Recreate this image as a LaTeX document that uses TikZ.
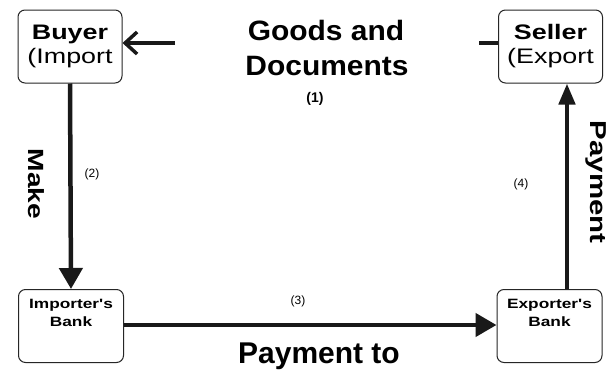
\documentclass[tikz,border=0pt]{standalone}
\usepackage{fontspec}
\setmainfont{Liberation Sans}
\newfontfamily\widefont[FakeStretch=1.28]{Liberation Sans}
\newfontfamily\midfont[FakeStretch=1.07]{Liberation Sans}
\usetikzlibrary{arrows.meta}
\tikzset{
  party/.style={draw=black!85, line width=1pt, rounded corners=7pt,
    minimum width=104pt, minimum height=73pt, inner sep=0pt,
    align=center, font=\widefont\fontsize{21}{24}\selectfont},
  bankbox/.style={draw=black!85, line width=1pt, rounded corners=7pt,
    minimum width=105pt, minimum height=73pt, inner sep=0pt},
  banktext/.style={align=center, inner sep=0pt,
    font=\widefont\bfseries\fontsize{13.5}{18}\selectfont},
  flow/.style={line width=4.5pt, draw=black!90,
    -{Triangle[length=21pt,width=23pt]}},
  num/.style={inner sep=0pt, font=\fontsize{12}{13}\selectfont},
  sidelabel/.style={inner sep=0pt, rotate=-90,
    font=\widefont\bfseries\fontsize{22}{24}\selectfont},
}
\begin{document}
\begin{tikzpicture}[x=1pt,y=-1pt]
\useasboundingbox[fill=white] (0,0) rectangle (611,370);

% trading parties
\node[party] (buyer) at (70,46.5) {\textbf{Buyer}\\(Import};
\node[party] (seller) at (550.5,46.5) {\textbf{Seller}\\(Export};

% banks
\node[bankbox] (ibank) at (71,326) {};
\node[banktext, anchor=north] (ibanktext) at ([yshift=-10pt]ibank.north) {Importer's\\Bank};
\node[bankbox] (ebank) at (549.5,326) {};
\node[banktext, anchor=north] (ebanktext) at ([yshift=-10pt]ebank.north) {Exporter's\\Bank};

% goods and documents
\node[anchor=base, inner sep=0pt, font=\midfont\bfseries\fontsize{28}{30}\selectfont] (goods) at (326,40) {Goods and};
\node[anchor=base, inner sep=0pt, font=\midfont\bfseries\fontsize{28}{30}\selectfont] (docs) at (327,75) {Documents};
\node[inner sep=0pt, font=\bfseries\fontsize{14}{16}\selectfont] (n1) at (315,99) {(1)};

\coordinate (gstart) at (175,43);
\draw[line width=3.5pt, draw=black!90,
  -{Straight Barb[length=12pt,width=22pt,line width=3.5pt]}]
  (gstart) -- (buyer.east |- gstart);
\coordinate (dashA) at (479,43);
\draw[line width=3.5pt, draw=black!90] (dashA) -- (seller.west |- dashA);

% payment flows
\draw[flow] (buyer.south) -- (ibank.north);
\draw[flow] (ibank.east |- 0,325) -- (ebank.west |- 0,325);
\draw[line width=4.5pt, draw=black!90, -{Triangle[length=21pt,width=16pt]}]
  (ebank.north -| 567,0) -- (seller.south -| 567,0);

% labels
\node[sidelabel] (make) at (36,184) {Make};
\node[sidelabel, font=\widefont\bfseries\fontsize{23}{25}\selectfont] (pay) at (596,182) {Payment};
\node[num] (n2) at (92,174) {(2)};
\node[num] (n4) at (521,184) {(4)};
\node[num] (n3) at (298,301) {(3)};
\node[anchor=base, inner sep=0pt, font=\bfseries\fontsize{30}{32}\selectfont] (payto) at (319,363) {Payment to};
\end{tikzpicture}
\end{document}
